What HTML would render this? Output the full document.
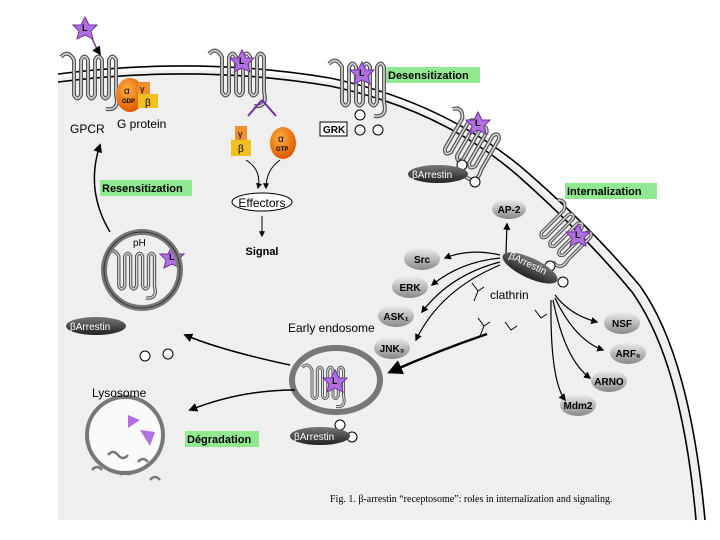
<!DOCTYPE html>
<html><head><meta charset="utf-8"><style>
body{margin:0;background:#fff}
svg{display:block;font-family:"Liberation Sans",sans-serif}
</style></head><body>
<svg width="720" height="540" viewBox="0 0 720 540" xmlns="http://www.w3.org/2000/svg">
<defs>
<radialGradient id="go" cx="40%" cy="35%" r="65%"><stop offset="0" stop-color="#ffb040"/><stop offset="1" stop-color="#e05a00"/></radialGradient>
<linearGradient id="gg" x1="0" y1="0" x2="0" y2="1"><stop offset="0" stop-color="#eee"/><stop offset="1" stop-color="#888"/></linearGradient>
<linearGradient id="ga" x1="0" y1="0" x2="0" y2="1"><stop offset="0" stop-color="#777"/><stop offset="1" stop-color="#222"/></linearGradient>
<marker id="ar" viewBox="0 0 10 10" refX="8" refY="5" markerWidth="6" markerHeight="6" orient="auto"><path d="M0,0L10,5L0,10z" fill="#000"/></marker>
<g id="rec">
<path d="M-5,2 Q2,-6 8,5 L8,40 Q11.5,47 15,40 L15,5 Q18.5,-2 22,5 L22,40 Q25.5,47 29,40 L29,5 Q32.5,-2 36,5 L36,40 Q39.5,47 43,40 L43,5 Q46.5,-2 50,5 L50,40 Q54,56 40,54" fill="none" stroke="#555" stroke-width="4"/>
<path d="M-5,2 Q2,-6 8,5 L8,40 Q11.5,47 15,40 L15,5 Q18.5,-2 22,5 L22,40 Q25.5,47 29,40 L29,5 Q32.5,-2 36,5 L36,40 Q39.5,47 43,40 L43,5 Q46.5,-2 50,5 L50,40 Q54,56 40,54" fill="none" stroke="#ddd" stroke-width="1.5"/>
</g>
</defs>
<path d="M58,78 Q200,60 330,82 Q440,105 520,170 Q590,230 640,290 Q690,360 705,520 L58,520 Z" fill="#efefef"/>
<path d="M58,74 Q200,56 330,78 Q440,101 520,166 Q590,226 640,286 Q690,356 705,520" fill="none" stroke="#000" stroke-width="1.6"/>
<path d="M58,82 Q200,64 330,86 Q440,109 516,174 Q584,234 632,292 Q682,362 696,520" fill="none" stroke="#000" stroke-width="1.6"/>
<use href="#rec" transform="translate(66,55)"/>
<use href="#rec" transform="translate(214,52)"/>
<use href="#rec" transform="translate(334,62)"/>
<use href="#rec" transform="translate(458,110) rotate(30)"/>
<use href="#rec" transform="translate(562,202) rotate(45) scale(0.9)"/>
<use href="#rec" transform="translate(112,252) scale(0.85)"/>
<use href="#rec" transform="translate(306,366) scale(0.75)"/>
<g fill="#b070e0" stroke="#7030a0">
<polygon points="85,17 89,25 97,25 91,31 93,39 85,35 77,39 79,31 73,25 81,25"/>
<polygon points="242,50 246,58 254,58 248,64 250,72 242,68 234,72 236,64 230,58 238,58"/>
<polygon points="362,62 366,70 374,70 368,76 370,84 362,80 354,84 356,76 350,70 358,70"/>
<polygon points="478,112 482,120 490,120 484,126 486,134 478,130 470,134 472,126 466,120 474,120"/>
<polygon points="578,224 582,232 590,232 584,238 586,246 578,242 570,246 572,238 566,232 574,232"/>
<polygon points="172,246 176,254 184,254 178,260 180,268 172,264 164,268 166,260 160,254 168,254"/>
<polygon points="335,370 339,378 347,378 341,384 343,392 335,388 327,392 329,384 323,378 331,378"/>
</g>
<g font-size="9" font-weight="bold" fill="#000"><text x="82" y="31">L</text><text x="239" y="64">L</text><text x="359" y="76">L</text><text x="475" y="126">L</text><text x="575" y="238">L</text><text x="169" y="260">L</text><text x="332" y="384">L</text></g>
<path d="M92,38 Q96,48 100,54" stroke="#7030b0" stroke-width="1.5" fill="none" marker-end="url(#ar)"/>
<ellipse cx="130" cy="95" rx="14" ry="17" fill="url(#go)"/>
<rect x="138" y="82" width="12" height="12" fill="#f09030"/><rect x="138" y="94" width="20" height="14" fill="#f0c020"/>
<text x="124" y="94" font-size="10" fill="#000">α</text><text x="122" y="103" font-size="6" font-weight="bold">GDP</text>
<text x="140" y="92" font-size="9">γ</text><text x="145" y="106" font-size="10">β</text>
<text x="70" y="133" font-size="12">GPCR</text><text x="117" y="128" font-size="12">G protein</text>
<path d="M262,100 L248,116 M262,100 L276,116" stroke="#7030b0" stroke-width="2" fill="none"/>
<rect x="235" y="126" width="12" height="14" fill="#f09030"/><rect x="231" y="140" width="20" height="16" fill="#f0c020"/>
<text x="238" y="137" font-size="9">γ</text><text x="238" y="152" font-size="10">β</text>
<ellipse cx="283" cy="143" rx="13" ry="16" fill="url(#go)"/>
<text x="278" y="142" font-size="10">α</text><text x="276" y="151" font-size="6" font-weight="bold">GTP</text>
<path d="M246,160 Q262,170 258,188" stroke="#000" fill="none" marker-end="url(#ar)"/>
<path d="M280,160 Q266,170 266,188" stroke="#000" fill="none" marker-end="url(#ar)"/>
<ellipse cx="262" cy="202" rx="30" ry="9" fill="#fff" stroke="#000"/>
<text x="262" y="207" font-size="12" text-anchor="middle">Effectors</text>
<path d="M262,216 L262,236" stroke="#000" marker-end="url(#ar)"/>
<text x="262" y="255" font-size="11" font-weight="bold" text-anchor="middle">Signal</text>
<rect x="320" y="122" width="27" height="14" fill="#fff" stroke="#000"/><text x="323" y="133" font-size="10" font-weight="bold">GRK</text>
<g fill="#fff" stroke="#000"><circle cx="360" cy="115" r="5"/><circle cx="360" cy="130" r="5"/><circle cx="378" cy="130" r="5"/>
<circle cx="462" cy="165" r="5"/><circle cx="475" cy="182" r="5"/><circle cx="550" cy="266" r="5"/><circle cx="563" cy="282" r="5"/>
<circle cx="145" cy="356" r="5"/><circle cx="168" cy="354" r="5"/><circle cx="340" cy="425" r="5"/><circle cx="352" cy="437" r="5"/></g>
<rect x="386" y="67" width="94" height="16" fill="#90e890"/><text x="388" y="79" font-size="11" font-weight="bold">Desensitization</text>
<rect x="565" y="183" width="92" height="16" fill="#90e890"/><text x="567" y="195" font-size="11" font-weight="bold">Internalization</text>
<rect x="100" y="180" width="92" height="16" fill="#90e890"/><text x="102" y="192" font-size="11" font-weight="bold">Resensitization</text>
<rect x="185" y="431" width="74" height="16" fill="#90e890"/><text x="187" y="443" font-size="11" font-weight="bold">Dégradation</text>
<ellipse cx="438" cy="174" rx="30" ry="9" fill="url(#ga)"/><text x="412" y="178" font-size="10" fill="#fff">βArrestin</text>
<ellipse cx="530" cy="268" rx="30" ry="10" fill="url(#ga)" transform="rotate(25 530 268)"/><text x="506" y="268" font-size="10" fill="#fff" transform="rotate(25 530 268)">βArrestin</text>
<ellipse cx="96" cy="326" rx="30" ry="9" fill="url(#ga)"/><text x="70" y="330" font-size="10" fill="#fff">βArrestin</text>
<ellipse cx="320" cy="436" rx="30" ry="9" fill="url(#ga)"/><text x="294" y="440" font-size="10" fill="#fff">βArrestin</text>
<g font-size="10" font-weight="bold" text-anchor="middle">
<ellipse cx="509" cy="209" rx="17" ry="10" fill="url(#gg)"/><text x="509" y="213">AP-2</text>
<ellipse cx="422" cy="259" rx="18" ry="11" fill="url(#gg)"/><text x="422" y="263">Src</text>
<ellipse cx="410" cy="287" rx="18" ry="11" fill="url(#gg)"/><text x="410" y="291">ERK</text>
<ellipse cx="396" cy="316" rx="18" ry="11" fill="url(#gg)"/><text x="396" y="320">ASK₁</text>
<ellipse cx="392" cy="348" rx="18" ry="11" fill="url(#gg)"/><text x="392" y="352">JNK₃</text>
<ellipse cx="622" cy="323" rx="18" ry="11" fill="url(#gg)"/><text x="622" y="327">NSF</text>
<ellipse cx="628" cy="353" rx="18" ry="11" fill="url(#gg)"/><text x="628" y="357">ARF₆</text>
<ellipse cx="609" cy="381" rx="18" ry="11" fill="url(#gg)"/><text x="609" y="385">ARNO</text>
<ellipse cx="578" cy="405" rx="18" ry="11" fill="url(#gg)"/><text x="578" y="409">Mdm2</text>
</g>
<g stroke="#000" fill="none" stroke-width="1.2" marker-end="url(#ar)">
<path d="M506,253 L507,224"/><path d="M500,255 Q470,248 445,258"/><path d="M500,258 Q460,262 432,285"/>
<path d="M500,262 Q450,275 422,312"/><path d="M500,265 Q440,290 416,340"/>
<path d="M555,295 Q570,315 597,322"/><path d="M555,298 Q575,340 603,350"/>
<path d="M553,300 Q565,360 590,378"/><path d="M551,300 Q550,380 565,400"/>
</g>
<path d="M487,334 Q440,350 390,372" stroke="#000" stroke-width="2.5" fill="none" marker-end="url(#ar)"/>
<text x="490" y="299" font-size="12">clathrin</text>
<g stroke="#000" fill="none"><path d="M472,283 l6,8 l6,-4 M478,291 l-4,10"/><path d="M478,318 l6,8 l6,-4 M484,326 l-4,10"/><path d="M505,322 l6,8 l6,-4"/><path d="M535,310 l6,8 l6,-4"/></g>
<circle cx="142" cy="270" r="38" fill="none" stroke="#777" stroke-width="6"/>
<circle cx="142" cy="270" r="38" fill="none" stroke="#333" stroke-width="1"/>
<text x="133" y="246" font-size="10">pH</text>
<ellipse cx="336" cy="380" rx="44" ry="32" fill="none" stroke="#777" stroke-width="6"/>
<text x="288" y="332" font-size="12">Early endosome</text>
<circle cx="125" cy="435" r="38" fill="#fafafa" stroke="#777" stroke-width="4"/>
<text x="92" y="397" font-size="12">Lysosome</text>
<g fill="#b070e0"><polygon points="128,415 140,420 128,428"/><polygon points="140,430 155,432 150,446"/></g>
<g stroke="#777" stroke-width="2.5" fill="none"><path d="M108,455 q5,-6 10,0 q5,6 10,0"/><path d="M120,475 q5,-6 10,0"/><path d="M92,470 q5,-6 10,0"/><path d="M138,462 q5,-6 10,0"/><path d="M150,480 q5,-6 10,0"/></g>
<g stroke="#000" fill="none" stroke-width="1.5" marker-end="url(#ar)">
<path d="M110,232 Q85,190 100,145"/>
<path d="M290,365 Q220,350 185,335"/>
<path d="M295,390 Q240,390 190,410"/>
</g>
<text x="330" y="502" font-size="10" font-family="Liberation Serif">Fig. 1. β-arrestin “receptosome”: roles in internalization and signaling.</text>
</svg>
</body></html>
